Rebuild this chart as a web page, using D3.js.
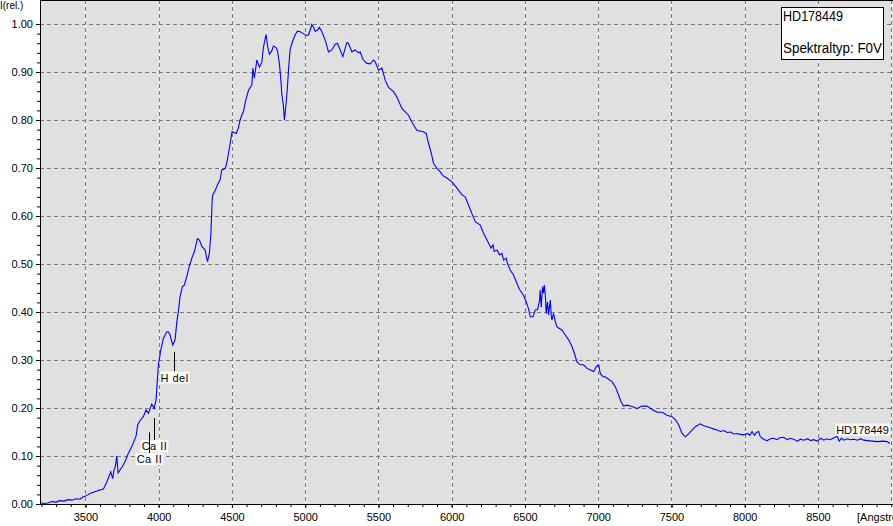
<!DOCTYPE html>
<html>
<head>
<meta charset="utf-8">
<script src="https://cdn.jsdelivr.net/npm/d3@7"></script>
<style>
body { margin: 0; background: #fff; }
text { font-family: "Liberation Sans", Arial, sans-serif; }
</style>
</head>
<body>
<svg id="chart" width="893" height="526"></svg>
<script>
// spectrum: wavelength in Angstrom, relative intensity
var wavelength = [
	3190,3215,3245,3270,3299,3325,3354,3380,3409,3435,
	3463,3480,3497,3515,3531,3577,3622,3646,3673,3686,
	3695,3704,3714,3723,3748,3770,3793,3816,3846,3857,
	3873,3895,3914,3930,3953,3969,3982,3991,3998,4014,
	4032,4055,4066,4078,4096,4112,4124,4134,4146,4162,
	4175,4192,4208,4226,4244,4264,4278,4296,4317,4333,
	4346,4356,4365,4369,4387,4401,4419,4431,4455,4469,
	4488,4501,4529,4544,4556,4567,4578,4595,4613,4636,
	4643,4653,4670,4688,4704,4715,4727,4733,4745,4756,
	4772,4783,4802,4811,4824,4834,4841,4851,4858,4870,
	4879,4886,4897,4913,4931,4947,4966,4988,5007,5022,
	5034,5045,5056,5068,5084,5097,5114,5136,5159,5182,
	5205,5220,5239,5257,5284,5295,5319,5341,5364,5375,
	5394,5421,5444,5466,5478,5500,5524,5546,5569,5603,
	5626,5660,5683,5705,5728,5763,5803,5826,5842,5858,
	5876,5899,5922,5940,5967,6002,6036,6070,6092,6115,
	6138,6161,6195,6217,6241,6268,6282,6290,6309,6327,
	6343,6354,6372,6381,6400,6422,6445,6463,6490,6509,
	6525,6536,6555,6570,6586,6600,6604,6611,6620,6627,
	6632,6639,6645,6654,6661,6673,6680,6684,6695,6707,
	6719,6753,6775,6798,6821,6837,6855,6878,6900,6923,
	6946,6969,6987,7003,7014,7033,7048,7071,7094,7117,
	7139,7156,7173,7197,7231,7265,7299,7333,7367,7401,
	7436,7470,7504,7526,7549,7572,7595,7617,7640,7663,
	7697,7720,7743,7765,7790,7811,7835,7858,7880,7905,
	7925,7948,7970,7993,8020,8035,8050,8066,8080,8095,
	8105,8119,8135,8153,8175,8198,8220,8240,8266,8290,
	8310,8334,8360,8380,8403,8430,8450,8471,8495,8517,
	8540,8560,8585,8610,8631,8645,8660,8676,8700,8720,
	8744,8770,8790,8812,8840,8870,8904,8940,8972,8990
];
var intensity = [
	0.003,0.001,0.002,0.005,0.004,0.007,0.006,0.009,0.008,0.011,
	0.010,0.014,0.016,0.019,0.022,0.027,0.031,0.046,0.067,0.053,
	0.071,0.078,0.100,0.065,0.076,0.088,0.106,0.119,0.142,0.165,
	0.174,0.182,0.196,0.189,0.208,0.199,0.217,0.258,0.290,0.320,
	0.345,0.359,0.359,0.352,0.331,0.342,0.380,0.400,0.432,0.453,
	0.456,0.474,0.494,0.512,0.526,0.553,0.550,0.536,0.529,0.505,
	0.522,0.560,0.633,0.644,0.654,0.665,0.675,0.696,0.699,0.717,
	0.751,0.776,0.772,0.783,0.800,0.810,0.817,0.842,0.862,0.873,
	0.908,0.887,0.925,0.910,0.920,0.951,0.970,0.978,0.951,0.937,
	0.944,0.954,0.951,0.944,0.918,0.883,0.852,0.831,0.800,0.835,
	0.869,0.904,0.946,0.963,0.977,0.985,0.984,0.980,0.976,0.977,
	0.987,0.999,0.994,0.985,0.987,0.993,0.984,0.967,0.942,0.946,
	0.958,0.960,0.946,0.932,0.961,0.960,0.942,0.946,0.940,0.942,
	0.926,0.918,0.917,0.925,0.921,0.904,0.908,0.883,0.868,0.859,
	0.848,0.824,0.817,0.810,0.796,0.778,0.776,0.772,0.751,0.734,
	0.710,0.699,0.692,0.684,0.679,0.671,0.658,0.644,0.640,0.623,
	0.605,0.588,0.581,0.564,0.550,0.533,0.540,0.526,0.529,0.519,
	0.522,0.508,0.512,0.501,0.487,0.477,0.460,0.447,0.435,0.421,
	0.406,0.390,0.390,0.404,0.405,0.425,0.446,0.410,0.453,0.439,
	0.456,0.435,0.397,0.421,0.394,0.425,0.390,0.383,0.397,0.380,
	0.369,0.362,0.352,0.342,0.328,0.314,0.296,0.290,0.290,0.283,
	0.279,0.276,0.286,0.290,0.272,0.265,0.265,0.260,0.255,0.244,
	0.227,0.213,0.204,0.206,0.203,0.199,0.204,0.204,0.197,0.191,
	0.191,0.185,0.182,0.176,0.165,0.147,0.140,0.146,0.154,0.161,
	0.167,0.163,0.161,0.159,0.156,0.154,0.151,0.153,0.149,0.150,
	0.146,0.147,0.145,0.144,0.147,0.143,0.151,0.143,0.149,0.151,
	0.141,0.137,0.134,0.132,0.136,0.137,0.134,0.138,0.139,0.134,
	0.137,0.135,0.131,0.135,0.133,0.136,0.132,0.134,0.131,0.137,
	0.133,0.136,0.134,0.138,0.141,0.131,0.137,0.133,0.136,0.134,
	0.135,0.133,0.136,0.133,0.132,0.131,0.130,0.131,0.130,0.126
];

var xTicks = [3500, 4000, 4500, 5000, 5500, 6000, 6500, 7000, 7500, 8000, 8500];
var xGrid = [3500, 4000, 4500, 5000, 5500, 6000, 6500, 7000, 7500, 8000, 8500, 9000];
var yTicks = [0, 0.1, 0.2, 0.3, 0.4, 0.5, 0.6, 0.7, 0.8, 0.9, 1.0];

// line identifications
var lineNames = ["H del", "Ca II", "Ca II"];
var lineWaves = [4102, 3968, 3934];
var lineTop = [0.317, 0.179, 0.149];
var lineBottom = [0.276, 0.133, 0.106];

var starName = "HD178449";
var spectralType = "Spektraltyp: F0V";

var svg = d3.select("#chart"),
	margin = {top: 0, right: 0, bottom: 22, left: 40},
	width = +svg.attr("width"),
	height = +svg.attr("height");

var xScale = d3.scaleLinear()
	.domain([3190, 9012])
	.range([margin.left, width]);

var yScale = d3.scaleLinear()
	.domain([0, 1])
	.range([504, 24]);

var plotBottom = yScale(0);

// background of the plot area
svg.append("rect")
	.attr("x", margin.left)
	.attr("y", 0)
	.attr("width", width - margin.left)
	.attr("height", plotBottom)
	.attr("fill", "#e0e0e0");

// grid
svg.append("g")
	.selectAll("line")
	.data(xGrid)
	.enter()
	.append("line")
	.attr("x1", d => Math.round(xScale(d)) + 0.5)
	.attr("x2", d => Math.round(xScale(d)) + 0.5)
	.attr("y1", 0)
	.attr("y2", plotBottom)
	.attr("stroke", "#ffffff");

svg.append("g")
	.selectAll("line")
	.data(xGrid)
	.enter()
	.append("line")
	.attr("x1", d => Math.round(xScale(d)) + 0.5)
	.attr("x2", d => Math.round(xScale(d)) + 0.5)
	.attr("y1", 0)
	.attr("y2", plotBottom)
	.attr("stroke", "#7a7a7a")
	.attr("stroke-dasharray", "4,3");

svg.append("g")
	.selectAll("line")
	.data(yTicks.slice(1))
	.enter()
	.append("line")
	.attr("x1", margin.left)
	.attr("x2", width)
	.attr("y1", d => Math.round(yScale(d)) + 0.5)
	.attr("y2", d => Math.round(yScale(d)) + 0.5)
	.attr("stroke", "#7a7a7a")
	.attr("stroke-dasharray", "4,3");

// spectrum
var line = d3.line()
	.x((d, i) => xScale(wavelength[i]))
	.y(d => yScale(d));

svg.append("path")
	.datum(intensity)
	.attr("d", line)
	.attr("fill", "none")
	.attr("stroke", "#0000ff")
	.attr("stroke-width", 1.1);

// axes
var minorY = d3.range(0, 1.001, 0.02);
var minorX = d3.range(3200, 9001, 100);

svg.append("g")
	.attr("transform", `translate(${margin.left},0)`)
	.call(d3.axisLeft(yScale).tickValues(minorY).tickSize(3).tickFormat(""))
	.call(g => g.select(".domain").remove());

svg.append("g")
	.attr("class", "y-axis")
	.attr("transform", `translate(${margin.left},0)`)
	.call(d3.axisLeft(yScale).tickValues(yTicks).tickSize(4).tickPadding(3).tickFormat(d3.format(".2f")))
	.call(g => g.select(".domain").remove());

svg.append("g")
	.attr("transform", `translate(0,${plotBottom})`)
	.call(d3.axisBottom(xScale).tickValues(minorX).tickSize(3).tickFormat(""))
	.call(g => g.select(".domain").remove());

svg.append("g")
	.attr("class", "x-axis")
	.attr("transform", `translate(0,${plotBottom})`)
	.call(d3.axisBottom(xScale).tickValues(xTicks).tickSize(4).tickPadding(5).tickFormat(d3.format("d")))
	.call(g => g.select(".domain").remove());

svg.selectAll(".x-axis text, .y-axis text")
	.attr("font-family", "Liberation Sans, Arial, sans-serif")
	.attr("font-size", "11px")
	.attr("fill", "#000");

// frame: left axis, bottom axis, top border
svg.append("line")
	.attr("x1", margin.left + 0.5).attr("x2", margin.left + 0.5)
	.attr("y1", 0).attr("y2", plotBottom + 1)
	.attr("stroke", "#000");
svg.append("line")
	.attr("x1", margin.left).attr("x2", width)
	.attr("y1", plotBottom + 0.5).attr("y2", plotBottom + 0.5)
	.attr("stroke", "#000");
svg.append("line")
	.attr("x1", margin.left).attr("x2", width)
	.attr("y1", 0.5).attr("y2", 0.5)
	.attr("stroke", "#000");

// axis titles
svg.append("text")
	.attr("x", 0)
	.attr("y", 9)
	.attr("font-size", "10px")
	.text("I(rel.)");

// the unit label runs off the right edge, as in the original
svg.append("text")
	.attr("x", 857)
	.attr("y", 521)
	.attr("font-size", "11px")
	.text("[Angström]");

// line identifications
lineNames.forEach((name, i) => {
	var lx = Math.round(xScale(lineWaves[i])) + 0.5,
		y0 = yScale(lineTop[i]),
		y1 = yScale(lineBottom[i]);

	svg.append("line")
		.attr("x1", lx).attr("x2", lx)
		.attr("y1", y0).attr("y2", y1)
		.attr("stroke", "#000");

	var label = svg.append("text")
		.attr("x", lx)
		.attr("y", y1 + 10)
		.attr("text-anchor", "middle")
		.attr("font-size", "11px")
		.attr("letter-spacing", "0.5px")
		.text(name);

	var b = label.node().getBBox();
	svg.insert("rect", function() { return label.node(); })
		.attr("x", b.x - 1)
		.attr("y", y1)
		.attr("width", b.width + 2)
		.attr("height", 12)
		.attr("fill", "#fff");
});

// star label at the end of the spectrum
var lastIdx = wavelength.length - 1;
var endLabel = svg.append("text")
	.attr("x", xScale(wavelength[lastIdx]) - 1)
	.attr("y", yScale(intensity[lastIdx]) - 10)
	.attr("text-anchor", "end")
	.attr("font-size", "11px")
	.text(starName);
var eb = endLabel.node().getBBox();
svg.insert("rect", function() { return endLabel.node(); })
	.attr("x", eb.x - 1)
	.attr("y", eb.y)
	.attr("width", eb.width + 2)
	.attr("height", eb.height)
	.attr("fill", "#fff");

// info box
svg.append("rect")
	.attr("x", 781.5)
	.attr("y", 7.5)
	.attr("width", 102)
	.attr("height", 52)
	.attr("fill", "#fff")
	.attr("stroke", "#000");

svg.append("text")
	.attr("x", 783)
	.attr("y", 21)
	.attr("font-size", "14px")
	.attr("textLength", 60)
	.attr("lengthAdjust", "spacingAndGlyphs")
	.text(starName);

svg.append("text")
	.attr("x", 783)
	.attr("y", 53)
	.attr("font-size", "14px")
	.attr("textLength", 99)
	.attr("lengthAdjust", "spacingAndGlyphs")
	.text(spectralType);
</script>
</body>
</html>
